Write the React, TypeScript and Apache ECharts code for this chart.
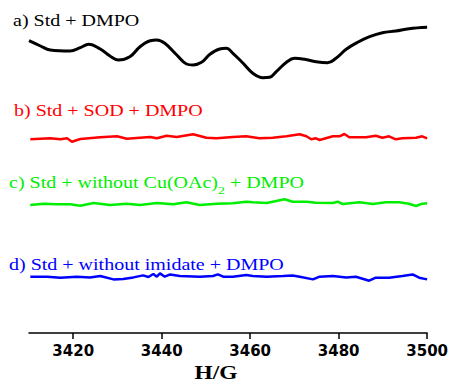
import React, { useEffect, useRef } from "react";
import * as echarts from "echarts";

// Field (G) and intensity (a.u.)
const fieldA = [3410, 3412.6, 3414.8, 3419.3, 3421.6, 3423.5, 3426.1, 3428.3, 3430.2, 3432.8, 3435.1, 3437.4, 3438.9, 3440.7, 3443.4, 3445.6, 3447.1, 3449.0, 3450.9, 3453.1, 3454.6, 3456.1, 3458.4, 3460.6, 3462.9, 3464.4, 3465.9, 3468.2, 3470.0, 3472.3, 3474.9, 3477.5, 3479.4, 3481.7, 3484.3, 3487.0, 3489.9, 3492.9, 3495.9, 3500];
const signalA = [14.3, 9, 5, 4, 7.3, 10.7, 6, -1, -5, -1.7, 8.3, 14.3, 15, 11.7, 0, -9, -10, -7.3, 0.7, 6, 6.7, 1.7, -8.3, -18.3, -22.7, -22.3, -16.7, -7.3, -3.3, -4.3, -6.7, -7.7, -3.3, 5.7, 12.7, 18.3, 22.3, 24, 26.3, 27.7];

const fieldB = [3410.3, 3414.8, 3417.1, 3418.6, 3419.7, 3421.6, 3426.1, 3429.9, 3432.1, 3435.1, 3437.4, 3438.9, 3441.1, 3443.4, 3447.1, 3450.1, 3452.4, 3456.1, 3459.1, 3462.1, 3465.1, 3468.2, 3471.2, 3472.7, 3473.8, 3474.9, 3475.7, 3478.7, 3480.2, 3481.3, 3482.4, 3486.2, 3488.4, 3489.9, 3491.4, 3492.9, 3494.4, 3497.5, 3498.9, 3500];
const signalB = [-1.3, -0.3, -1.3, -0.3, -3.7, -1, 0.7, 1.7, -0.7, 0.3, 1, -0.3, 2.3, 1, 3.7, 0.3, -0.3, 1, 1.7, -0.3, 0.3, 1.7, 3.7, 1.7, -1.3, -0.3, -2, 1.7, 1.7, 4, 0.7, 0.7, 2.3, 0.3, 1.7, -1.3, -0.3, 0.3, 1.7, -0.3];

const fieldC = [3410.3, 3413.3, 3416.3, 3419.3, 3421.6, 3424.6, 3428.3, 3432.1, 3435.1, 3438.9, 3442.6, 3445.6, 3448.6, 3452.4, 3456.1, 3459.1, 3460.6, 3463.7, 3465.9, 3467.8, 3469.6, 3472.7, 3474.9, 3478.7, 3479.8, 3480.9, 3484.7, 3487.7, 3490.7, 3493.7, 3495.9, 3497.5, 3498.9, 3500];
const signalC = [-1, 0.3, -0.3, -0.3, -1.7, 1, -1, 0.3, -1, 1, -0.3, 1.7, -1, 0.3, 0.7, 2.3, 1.7, 1, 3, 4.7, 2.3, 2.3, 1.3, 1, 2.3, 0, 1.7, 0, 1.7, 1.7, 0.3, -2, 0.3, 0.7];

const fieldD = [3410.3, 3414.1, 3417.1, 3420.8, 3423.8, 3426.1, 3429.1, 3431.3, 3433.6, 3435.8, 3437.0, 3438.1, 3438.9, 3439.6, 3440.7, 3441.9, 3444.1, 3448.6, 3451.6, 3452.7, 3453.9, 3456.1, 3459.1, 3460.6, 3463.7, 3467.4, 3469.6, 3471.2, 3474.2, 3475.7, 3478.7, 3481.7, 3483.9, 3485.4, 3486.9, 3488.4, 3491.4, 3494.4, 3496.7, 3498.2, 3500];
const signalD = [0, 0, -1, 0, -0.7, 0.7, -2.7, -2.3, -0.7, 1.3, -0.3, 2.7, 0, 3.3, 0, 2.3, 0.7, 0, 0.7, 2.3, 0, 0, 1.7, 0.7, 0, 0.7, 1.3, 0, -2.7, 0, 0.7, -0.7, 0, -2, -4, -1, -1, 0.7, 2.3, -1, -2.7];

// vertical offsets used to stack the spectra
const offsets = [278, 195, 129, 56.3];
const seriesNames = ["a) Std + DMPO", "b) Std + SOD + DMPO", "c) Std + without Cu(OAc)2 + DMPO", "d) Std + without imidate + DMPO"];
const colors = ["#000000", "#ff0000", "#00ee00", "#0000ff"];
const tickValues = [3420, 3440, 3460, 3480, 3500];

export default function App() {
  const ref = useRef<HTMLDivElement>(null);
  useEffect(() => {
    if (!ref.current) return;
    const chart = echarts.init(ref.current, undefined, { renderer: "svg" });
    const fields = [fieldA, fieldB, fieldC, fieldD];
    const signals = [signalA, signalB, signalC, signalD];
    const serif = "'Liberation Serif', 'Times New Roman', serif";
    const sx = 1.25;
    chart.setOption({
      animation: false,
      grid: { left: 29, right: 23, top: 20, bottom: 51 },
      xAxis: {
        type: "value",
        min: 3410,
        max: 3500,
        splitLine: { show: false },
        axisLine: { show: true, lineStyle: { color: "#000", width: 1.5 } },
        axisTick: { show: true, customValues: tickValues, length: 6, lineStyle: { color: "#000", width: 1.5 } },
        axisLabel: {
          customValues: tickValues,
          formatter: (v: number) => String(v),
          color: "#000",
          fontFamily: "'DejaVu Sans', sans-serif",
          fontWeight: "bold",
          fontSize: 15,
          margin: 10,
        },
      },
      yAxis: { type: "value", min: 0, max: 313, show: false },
      series: fields.map((f, i) => ({
        type: "line",
        name: seriesNames[i],
        data: f.map((x, j) => [x, signals[i][j] + offsets[i]]),
        showSymbol: false,
        smooth: i === 0 ? 0.4 : false,
        lineStyle: { color: colors[i], width: i === 0 ? 3 : 2.5 },
        itemStyle: { color: colors[i] },
      })),
      graphic: [
        { type: "text", x: 13, y: 21, scaleX: sx, style: { text: "a) Std + DMPO", fill: colors[0], font: `16px ${serif}`, verticalAlign: "middle" } },
        { type: "text", x: 14, y: 111, scaleX: sx, style: { text: "b) Std + SOD + DMPO", fill: colors[1], font: `16px ${serif}`, verticalAlign: "middle" } },
        {
          type: "text", x: 9, y: 175, scaleX: sx,
          style: {
            text: "{n|c) Std + without Cu(OAc)}{s|2}{n| + DMPO}",
            fill: colors[2],
            rich: {
              n: { fontFamily: serif, fontSize: 16, fill: colors[2], color: colors[2], verticalAlign: "bottom", padding: [0, 0, 5, 0] },
              s: { fontFamily: serif, fontSize: 11, fill: colors[2], color: colors[2], verticalAlign: "bottom" },
            },
          },
        },
        { type: "text", x: 9, y: 265, scaleX: sx, style: { text: "d) Std + without imidate + DMPO", fill: colors[3], font: `16px ${serif}`, verticalAlign: "middle" } },
        { type: "text", x: 216, y: 373, scaleX: 1.3, style: { text: "H/G", fill: "#000", font: `bold 18px ${serif}`, align: "center", verticalAlign: "middle" } },
      ],
    });
    return () => chart.dispose();
  }, []);
  return <div ref={ref} style={{ position: "absolute", left: 0, top: 0, width: 451, height: 384 }} />;
}
